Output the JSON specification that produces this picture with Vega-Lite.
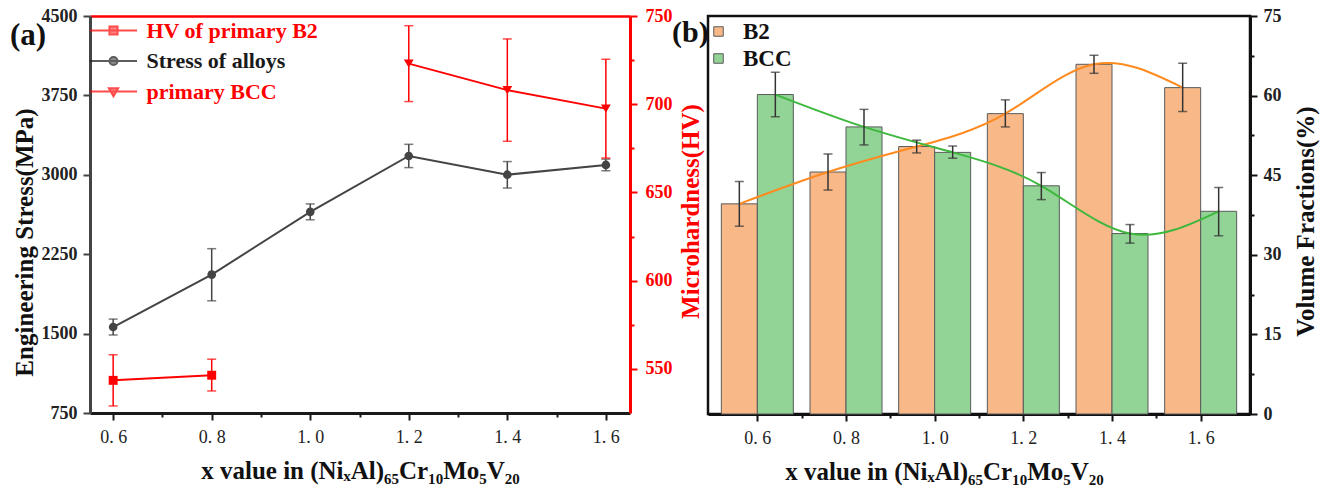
{
  "$schema": "https://vega.github.io/schema/vega-lite/v6.json",
  "padding": {"top": 5, "left": 10, "right": 5, "bottom": 5},
  "bounds": "flush",
  "spacing": 78,
  "resolve": {"scale": {"fill": "independent", "stroke": "independent", "shape": "independent"}, "legend": {"fill": "independent", "stroke": "independent", "shape": "independent"}},
  "config": {
    "font": "Liberation Serif",
    "view": {"stroke": null},
    "axis": {"grid": false, "labelFont": "Liberation Serif", "titleFont": "Liberation Serif", "labelFontSize": 17, "titleFontSize": 20, "titleFontWeight": "bold"},
    "title": {"font": "Liberation Serif"},
    "legend": {"labelFont": "Liberation Serif", "labelLimit": 0}
  },
  "datasets": {
    "a": [
      {"series": "Stress of alloys", "x": 0.6, "v": 1562, "lo": 1487, "hi": 1637},
      {"series": "Stress of alloys", "x": 0.8, "v": 2057, "lo": 1810, "hi": 2302},
      {"series": "Stress of alloys", "x": 1.0, "v": 2650, "lo": 2575, "hi": 2725},
      {"series": "Stress of alloys", "x": 1.2, "v": 3178, "lo": 3068, "hi": 3288},
      {"series": "Stress of alloys", "x": 1.4, "v": 3001, "lo": 2875, "hi": 3125},
      {"series": "Stress of alloys", "x": 1.6, "v": 3093, "lo": 3038, "hi": 3148},
      {"series": "HV of primary B2", "x": 0.6, "v": 543.5, "lo": 529, "hi": 558},
      {"series": "HV of primary B2", "x": 0.8, "v": 546.4, "lo": 537.5, "hi": 555.5},
      {"series": "primary BCC", "x": 1.2, "v": 723, "lo": 701.5, "hi": 744.5},
      {"series": "primary BCC", "x": 1.4, "v": 708, "lo": 679, "hi": 737},
      {"series": "primary BCC", "x": 1.6, "v": 697.5, "lo": 669.5, "hi": 725.5}
    ],
    "b": [
      {"phase": "B2", "x": 0.6, "v": 39.6, "lo": 35.4, "hi": 43.8},
      {"phase": "B2", "x": 0.8, "v": 45.6, "lo": 42.2, "hi": 49.0},
      {"phase": "B2", "x": 1.0, "v": 50.4, "lo": 49.2, "hi": 51.6},
      {"phase": "B2", "x": 1.2, "v": 56.6, "lo": 54.1, "hi": 59.2},
      {"phase": "B2", "x": 1.4, "v": 65.9, "lo": 64.2, "hi": 67.6},
      {"phase": "B2", "x": 1.6, "v": 61.5, "lo": 57.0, "hi": 66.1},
      {"phase": "BCC", "x": 0.6, "v": 60.2, "lo": 56.0, "hi": 64.4},
      {"phase": "BCC", "x": 0.8, "v": 54.1, "lo": 50.7, "hi": 57.4},
      {"phase": "BCC", "x": 1.0, "v": 49.3, "lo": 48.2, "hi": 50.5},
      {"phase": "BCC", "x": 1.2, "v": 43.0, "lo": 40.4, "hi": 45.5},
      {"phase": "BCC", "x": 1.4, "v": 34.0, "lo": 32.2, "hi": 35.7},
      {"phase": "BCC", "x": 1.6, "v": 38.2, "lo": 33.6, "hi": 42.7}
    ]
  },
  "hconcat": [
    {
      "width": 540,
      "height": 397,
      "data": {"name": "a"},
      "title": {"text": "(a)", "anchor": "start", "frame": "bounds", "fontSize": 31, "fontWeight": "bold", "color": "#111", "dx": -2, "dy": 45, "offset": 0},
      "layer": [
        {
          "transform": [{"filter": "datum.series == 'Stress of alloys'"}],
          "encoding": {
            "x": {
              "field": "x", "type": "quantitative",
              "scale": {"domain": [0.553, 1.649], "nice": false, "zero": false},
              "axis": {
                "orient": "bottom",
                "values": [0.6, 0.7, 0.8, 0.9, 1.0, 1.1, 1.2, 1.3, 1.4, 1.5, 1.6],
                "labelExpr": "round(datum.value*10) % 2 == 0 ? replace(format(datum.value, '.1f'), '.', '. ') : ''",
                "tickSize": {"condition": {"test": "round(datum.value*10) % 2 == 0", "value": 7}, "value": 4},
                "domainColor": "#1a1a1a", "domainWidth": 3, "tickColor": "#1a1a1a", "tickWidth": 2,
                "labelColor": "#222", "labelFontSize": 18, "labelPadding": 8,
                "title": "x value in (NiₓAl)₆₅Cr₁₀Mo₅V₂₀", "titleFontSize": 25, "titleColor": "#111", "titlePadding": 12
              }
            }
          },
          "layer": [
            {
              "mark": {"type": "rule", "color": "#444", "strokeWidth": 1.5},
              "encoding": {
                "y": {
                  "field": "lo", "type": "quantitative",
                  "scale": {"domain": [750, 4500], "nice": false, "zero": false},
                  "axis": {
                    "orient": "left",
                    "values": [750, 1125, 1500, 1875, 2250, 2625, 3000, 3375, 3750, 4125, 4500],
                    "labelExpr": "datum.value % 750 == 0 ? format(datum.value, 'd') : ''",
                    "tickSize": {"condition": {"test": "datum.value % 750 == 0", "value": 7}, "value": 4},
                    "domainColor": "#444", "domainWidth": 3, "tickColor": "#444", "tickWidth": 2,
                    "labelColor": "#222", "labelFontWeight": "bold", "labelFontSize": 18, "labelPadding": 6,
                    "title": "Engineering Stress(MPa)", "titleColor": "#111", "titleFontSize": 25, "titleY": 226, "titlePadding": 4
                  }
                },
                "y2": {"field": "hi"}
              }
            },
            {
              "mark": {"type": "tick", "orient": "horizontal", "size": 9, "thickness": 1.5, "color": "#444"},
              "encoding": {"y": {"field": "lo", "type": "quantitative"}}
            },
            {
              "mark": {"type": "tick", "orient": "horizontal", "size": 9, "thickness": 1.5, "color": "#444"},
              "encoding": {"y": {"field": "hi", "type": "quantitative"}}
            },
            {
              "mark": {"type": "line", "color": "#444", "strokeWidth": 2},
              "encoding": {"y": {"field": "v", "type": "quantitative"}}
            },
            {
              "mark": {"type": "point", "filled": true, "shape": "circle", "size": 75, "color": "#444", "opacity": 1},
              "encoding": {"y": {"field": "v", "type": "quantitative"}}
            }
          ]
        },
        {
          "transform": [{"filter": "datum.series != 'Stress of alloys'"}],
          "encoding": {
            "x": {
              "field": "x", "type": "quantitative",
              "axis": {"orient": "top", "labels": false, "ticks": false, "title": null, "domainColor": "#ff0000", "domainWidth": 2.5}
            }
          },
          "layer": [
            {
              "mark": {"type": "rule", "color": "#ff0000", "strokeWidth": 1.5},
              "encoding": {
                "y": {
                  "field": "lo", "type": "quantitative",
                  "scale": {"domain": [525, 750], "nice": false, "zero": false},
                  "axis": {
                    "orient": "right",
                    "values": [550, 575, 600, 625, 650, 675, 700, 725, 750],
                    "labelExpr": "datum.value % 50 == 0 ? format(datum.value, 'd') : ''",
                    "tickSize": {"condition": {"test": "datum.value % 50 == 0", "value": 7}, "value": 4},
                    "domainColor": "#ff0000", "domainWidth": 3, "tickColor": "#ff0000", "tickWidth": 2,
                    "labelColor": "#ff0000", "labelFontWeight": "bold", "labelFontSize": 18, "labelPadding": 8,
                    "title": "Microhardness(HV)", "titleColor": "#ff0000", "titleFontSize": 25, "titleAngle": 270, "titleY": 195, "titlePadding": 31
                  }
                },
                "y2": {"field": "hi"}
              }
            },
            {
              "mark": {"type": "tick", "orient": "horizontal", "size": 9, "thickness": 1.5, "color": "#ff0000"},
              "encoding": {"y": {"field": "lo", "type": "quantitative"}}
            },
            {
              "mark": {"type": "tick", "orient": "horizontal", "size": 9, "thickness": 1.5, "color": "#ff0000"},
              "encoding": {"y": {"field": "hi", "type": "quantitative"}}
            },
            {
              "mark": {"type": "line", "color": "#ff0000", "strokeWidth": 2},
              "encoding": {"y": {"field": "v", "type": "quantitative"}, "detail": {"field": "series"}}
            },
            {
              "transform": [{"filter": "datum.series == 'HV of primary B2'"}],
              "mark": {"type": "point", "filled": true, "shape": "square", "size": 80, "color": "#ff0000", "opacity": 1},
              "encoding": {"y": {"field": "v", "type": "quantitative"}}
            },
            {
              "transform": [{"filter": "datum.series == 'primary BCC'"}],
              "mark": {"type": "point", "filled": true, "shape": "triangle-down", "size": 95, "color": "#ff0000", "opacity": 1},
              "encoding": {"y": {"field": "v", "type": "quantitative"}}
            },
            {
              "transform": [{"filter": "datum.x > 99"}],
              "mark": {"type": "point", "filled": true},
              "encoding": {
                "y": {"field": "v", "type": "quantitative"},
                "fill": {
                  "field": "series", "type": "nominal",
                  "scale": {"domain": ["HV of primary B2", "Stress of alloys", "primary BCC"], "range": ["#ff0000", "#1a1a1a", "#ff0000"]},
                  "legend": {"orient": "none", "legendX": 7.5, "legendY": -1.5, "title": null, "padding": 0, "symbolSize": 900, "symbolStrokeWidth": 2, "labelFontSize": 22, "labelFontWeight": "bold", "labelColor": {"expr": "datum.label == 'Stress of alloys' ? '#1a1a1a' : '#ff0000'"}, "labelOffset": 17, "rowPadding": 3.5, "labelLimit": 0}
                },
                "stroke": {
                  "field": "series", "type": "nominal",
                  "scale": {"domain": ["HV of primary B2", "Stress of alloys", "primary BCC"], "range": ["#ff0000", "#1a1a1a", "#ff0000"]},
                  "legend": {"orient": "none", "legendX": 7.5, "legendY": -1.5, "title": null, "padding": 0, "symbolSize": 900, "symbolStrokeWidth": 2, "labelFontSize": 22, "labelFontWeight": "bold", "labelColor": {"expr": "datum.label == 'Stress of alloys' ? '#1a1a1a' : '#ff0000'"}, "labelOffset": 17, "rowPadding": 3.5, "labelLimit": 0}
                },
                "shape": {
                  "field": "series", "type": "nominal",
                  "scale": {"domain": ["HV of primary B2", "Stress of alloys", "primary BCC"], "range": ["M-1.57,0H1.57M-0.27,-0.27H0.27V0.27H-0.27Z", "M-1.57,0H1.57M-0.27,0A0.27,0.27 0 1,0 0.27,0A0.27,0.27 0 1,0 -0.27,0Z", "M-1.57,0H1.57M-0.31,-0.22L0.31,-0.22L0,0.31Z"]},
                  "legend": {"orient": "none", "legendX": 7.5, "legendY": -1.5, "title": null, "padding": 0, "symbolSize": 900, "symbolStrokeWidth": 2, "labelFontSize": 22, "labelFontWeight": "bold", "labelColor": {"expr": "datum.label == 'Stress of alloys' ? '#1a1a1a' : '#ff0000'"}, "labelOffset": 17, "rowPadding": 3.5, "labelLimit": 0}
                }
              }
            }
          ]
        }
      ],
      "resolve": {"scale": {"y": "independent"}, "axis": {"x": "independent", "y": "independent"}}
    },
    {
      "width": 542,
      "height": 398,
      "data": {"name": "b"},
      "view": {"stroke": "#111", "strokeWidth": 2.5},
      "title": {"text": "(b)", "anchor": "start", "frame": "group", "fontSize": 30, "fontWeight": "bold", "color": "#111", "dx": -36, "dy": 41, "offset": 0},
      "encoding": {
        "x": {
          "field": "x", "type": "quantitative",
          "scale": {"domain": [0.5, 1.7], "nice": false, "zero": false},
          "axis": {
            "orient": "bottom",
            "values": [0.6, 0.7, 0.8, 0.9, 1.0, 1.1, 1.2, 1.3, 1.4, 1.5, 1.6],
            "labelExpr": "round(datum.value*10) % 2 == 0 ? replace(format(datum.value, '.1f'), '.', '. ') : ''",
            "tickSize": {"condition": {"test": "round(datum.value*10) % 2 == 0", "value": 7}, "value": 4},
            "domainColor": "#111", "domainWidth": 3, "tickColor": "#111", "tickWidth": 2,
            "labelColor": "#222", "labelFontSize": 18, "labelPadding": 8,
            "title": "x value in (NiₓAl)₆₅Cr₁₀Mo₅V₂₀", "titleFontSize": 25, "titleColor": "#111", "titlePadding": 12, "titleX": 236
          }
        },
        "y": {
          "field": "v", "type": "quantitative",
          "scale": {"domain": [0, 75], "nice": false},
          "axis": {
            "orient": "right",
            "values": [0, 7.5, 15, 22.5, 30, 37.5, 45, 52.5, 60, 67.5, 75],
            "labelExpr": "datum.value % 15 == 0 ? format(datum.value, 'd') : ''",
            "tickSize": {"condition": {"test": "datum.value % 15 == 0", "value": 7}, "value": 4},
            "domainColor": "#111", "domainWidth": 3, "tickColor": "#111", "tickWidth": 2,
            "labelColor": "#222", "labelFontWeight": "bold", "labelFontSize": 18, "labelPadding": 6,
            "title": "Volume Fractions(%)", "titleColor": "#111", "titleFontSize": 25, "titleAngle": 270, "titleY": 205, "titlePadding": 37
          }
        }
      },
      "layer": [
        {
          "transform": [{"filter": "datum.phase == 'B2'"}],
          "mark": {"type": "bar", "width": 36, "xOffset": -18, "stroke": "#5a5a5a", "strokeWidth": 1, "opacity": 1},
          "encoding": {
            "fill": {
              "field": "phase", "type": "nominal",
              "scale": {"domain": ["B2", "BCC"], "range": ["#F8B888", "#92D396"]},
              "legend": {"orient": "none", "legendX": -1, "legendY": 4, "padding": 0, "title": null, "symbolType": "square", "symbolSize": 90, "symbolStrokeColor": "#5a5a5a", "symbolStrokeWidth": 1, "labelFontSize": 23, "labelFontWeight": "bold", "labelColor": "#111", "labelOffset": 13, "rowPadding": 3}
            }
          }
        },
        {
          "transform": [{"filter": "datum.phase == 'BCC'"}],
          "mark": {"type": "bar", "width": 36, "xOffset": 18, "stroke": "#5a5a5a", "strokeWidth": 1, "opacity": 1},
          "encoding": {
            "fill": {"field": "phase", "type": "nominal"}
          }
        },
        {
          "transform": [{"filter": "datum.phase == 'B2'"}],
          "mark": {"type": "line", "interpolate": "natural", "color": "#FF8A1F", "strokeWidth": 2, "xOffset": -18}
        },
        {
          "transform": [{"filter": "datum.phase == 'BCC'"}],
          "mark": {"type": "line", "interpolate": "natural", "color": "#3DB83D", "strokeWidth": 2, "xOffset": 18}
        },
        {
          "transform": [{"filter": "datum.phase == 'B2'"}],
          "mark": {"type": "rule", "color": "#333", "strokeWidth": 1.5, "xOffset": -18},
          "encoding": {"y": {"field": "lo", "type": "quantitative"}, "y2": {"field": "hi"}}
        },
        {
          "transform": [{"filter": "datum.phase == 'B2'"}],
          "mark": {"type": "tick", "orient": "horizontal", "size": 9, "thickness": 1.5, "color": "#333", "xOffset": -18},
          "encoding": {"y": {"field": "lo", "type": "quantitative"}}
        },
        {
          "transform": [{"filter": "datum.phase == 'B2'"}],
          "mark": {"type": "tick", "orient": "horizontal", "size": 9, "thickness": 1.5, "color": "#333", "xOffset": -18},
          "encoding": {"y": {"field": "hi", "type": "quantitative"}}
        },
        {
          "transform": [{"filter": "datum.phase == 'BCC'"}],
          "mark": {"type": "rule", "color": "#333", "strokeWidth": 1.5, "xOffset": 18},
          "encoding": {"y": {"field": "lo", "type": "quantitative"}, "y2": {"field": "hi"}}
        },
        {
          "transform": [{"filter": "datum.phase == 'BCC'"}],
          "mark": {"type": "tick", "orient": "horizontal", "size": 9, "thickness": 1.5, "color": "#333", "xOffset": 18},
          "encoding": {"y": {"field": "lo", "type": "quantitative"}}
        },
        {
          "transform": [{"filter": "datum.phase == 'BCC'"}],
          "mark": {"type": "tick", "orient": "horizontal", "size": 9, "thickness": 1.5, "color": "#333", "xOffset": 18},
          "encoding": {"y": {"field": "hi", "type": "quantitative"}}
        }
      ]
    }
  ]
}
